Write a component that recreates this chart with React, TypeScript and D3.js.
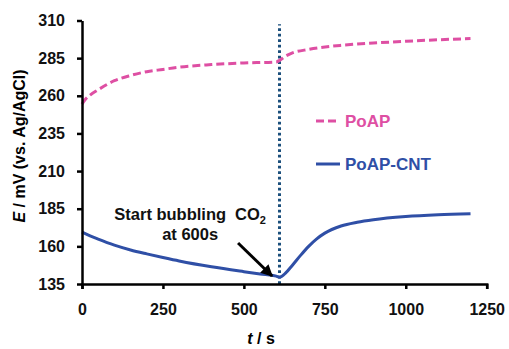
import React, { useEffect, useRef } from 'react';
import * as d3 from 'd3';

// PoAP (dashed pink) potential vs time
const poapTime = [0, 10, 25, 50, 100, 150, 200, 250, 300, 400, 500, 600, 610, 630, 650, 700, 800, 900, 1000, 1100, 1200];
const poapE = [254.5, 257.5, 260.5, 264, 270, 273.5, 276, 277.5, 279, 280.7, 281.8, 282.5, 283.5, 286.5, 288.5, 290.8, 293.5, 295, 296.2, 297.2, 298];

// PoAP-CNT (solid blue)
const cntTime = [0, 25, 50, 100, 150, 200, 250, 300, 400, 500, 550, 600, 610, 630, 650, 675, 700, 725, 750, 800, 850, 900, 1000, 1100, 1200];
const cntE = [169.5, 167, 164.8, 160.8, 157.6, 155, 152.6, 150.3, 146.4, 143.2, 141.7, 140.2, 139.5, 142.5, 147.5, 154, 160, 165, 168.8, 173.5, 176, 177.7, 179.8, 181, 181.7];

const xTicks = [0, 250, 500, 750, 1000, 1250];
const yTicks = [135, 160, 185, 210, 235, 260, 285, 310];

const bubbleStart = 610;

const W = 509;
const H = 349;
const FONT = '"Liberation Sans", Arial, sans-serif';

const Chart = () => {
  const ref = useRef<SVGSVGElement>(null);

  useEffect(() => {
    const svg = d3.select(ref.current);
    svg.selectAll('*').remove();

    const x = d3.scaleLinear().domain([0, 1250]).range([82, 486.7]);
    const y = d3.scaleLinear().domain([135, 310]).range([284, 20.5]);

    const line = d3.line<[number, number]>()
      .x(d => x(d[0]))
      .y(d => y(d[1]))
      .curve(d3.curveMonotoneX);

    // vertical dotted marker
    svg.append('line')
      .attr('x1', x(bubbleStart)).attr('x2', x(bubbleStart))
      .attr('y1', y(135)).attr('y2', y(307.5))
      .attr('stroke', '#1b4f7c')
      .attr('stroke-width', 3)
      .attr('stroke-dasharray', '2.8,2.7');

    svg.append('path')
      .datum(poapTime.map((t, i) => [t, poapE[i]] as [number, number]))
      .attr('fill', 'none')
      .attr('stroke', '#de4fa3')
      .attr('stroke-width', 3)
      .attr('stroke-dasharray', '8,4')
      .attr('d', line);

    svg.append('path')
      .datum(cntTime.map((t, i) => [t, cntE[i]] as [number, number]))
      .attr('fill', 'none')
      .attr('stroke', '#2f4fa6')
      .attr('stroke-width', 3)
      .attr('d', line);

    // axes
    const xAxis = svg.append('g')
      .attr('transform', `translate(0,${y(135)})`)
      .call(d3.axisBottom(x).tickValues(xTicks).tickFormat(d3.format('d')).tickSize(5).tickSizeOuter(5).tickPadding(15));
    const yAxis = svg.append('g')
      .attr('transform', `translate(${x(0)},0)`)
      .call(d3.axisLeft(y).tickValues(yTicks).tickFormat(d3.format('d')).tickSize(5).tickSizeOuter(0).tickPadding(12));

    [xAxis, yAxis].forEach(g => {
      g.selectAll('path, line').attr('stroke', '#000').attr('stroke-width', 2.5);
      g.selectAll('text')
        .attr('font-family', FONT)
        .attr('font-weight', 'bold')
        .attr('font-size', 16)
        .attr('fill', '#111');
    });

    // axis titles
    const xt = svg.append('text')
      .attr('x', 261).attr('y', 344)
      .attr('text-anchor', 'middle')
      .attr('font-family', FONT).attr('font-weight', 'bold').attr('font-size', 16);
    xt.append('tspan').attr('font-style', 'italic').text('t');
    xt.append('tspan').text(' / s');

    const yt = svg.append('text')
      .attr('transform', 'translate(25,146) rotate(-90)')
      .attr('text-anchor', 'middle')
      .attr('font-family', FONT).attr('font-weight', 'bold').attr('font-size', 16);
    yt.append('tspan').attr('font-style', 'italic').text('E');
    yt.append('tspan').text(' / mV (vs. Ag/AgCl)');

    // legend
    const legend = [
      { label: 'PoAP', color: '#de4fa3', dash: '8,4', yPos: 121 },
      { label: 'PoAP-CNT', color: '#2f4fa6', dash: null, yPos: 164 },
    ];
    legend.forEach(l => {
      svg.append('line')
        .attr('x1', 316).attr('x2', 340)
        .attr('y1', l.yPos).attr('y2', l.yPos)
        .attr('stroke', l.color).attr('stroke-width', 3)
        .attr('stroke-dasharray', l.dash);
      svg.append('text')
        .attr('x', 345).attr('y', l.yPos + 6)
        .attr('font-family', FONT).attr('font-weight', 'bold').attr('font-size', 17)
        .attr('fill', l.color)
        .text(l.label);
    });

    // annotation
    const ann = svg.append('text')
      .attr('x', x(334)).attr('y', y(177.5))
      .attr('text-anchor', 'middle')
      .attr('font-family', FONT).attr('font-weight', 'bold').attr('font-size', 16.5)
      .attr('fill', '#111');
    ann.append('tspan').text('Start bubbling');
    ann.append('tspan').attr('dx', 9).text('CO');
    ann.append('tspan').attr('font-size', 11).attr('dy', 4).text('2');
    svg.append('text')
      .attr('x', x(334)).attr('y', y(164.2))
      .attr('text-anchor', 'middle')
      .attr('font-family', FONT).attr('font-weight', 'bold').attr('font-size', 16.5)
      .attr('fill', '#111')
      .text('at 600s');

    svg.append('defs').append('marker')
      .attr('id', 'arrowhead')
      .attr('viewBox', '0 0 10 10')
      .attr('refX', 9).attr('refY', 5)
      .attr('markerUnits', 'userSpaceOnUse')
      .attr('markerWidth', 13).attr('markerHeight', 12)
      .attr('orient', 'auto')
      .append('path').attr('d', 'M0,0 L10,5 L0,10 z').attr('fill', '#000');

    svg.append('line')
      .attr('x1', x(482)).attr('y1', y(162.2))
      .attr('x2', x(587)).attr('y2', y(140.3))
      .attr('stroke', '#000').attr('stroke-width', 3)
      .attr('marker-end', 'url(#arrowhead)');
  }, []);

  return (
    <svg ref={ref} width={W} height={H}
      style={{ position: 'absolute', left: 0, top: 0, background: '#fff' }} />
  );
};

export default function App() {
  return <Chart />;
}
